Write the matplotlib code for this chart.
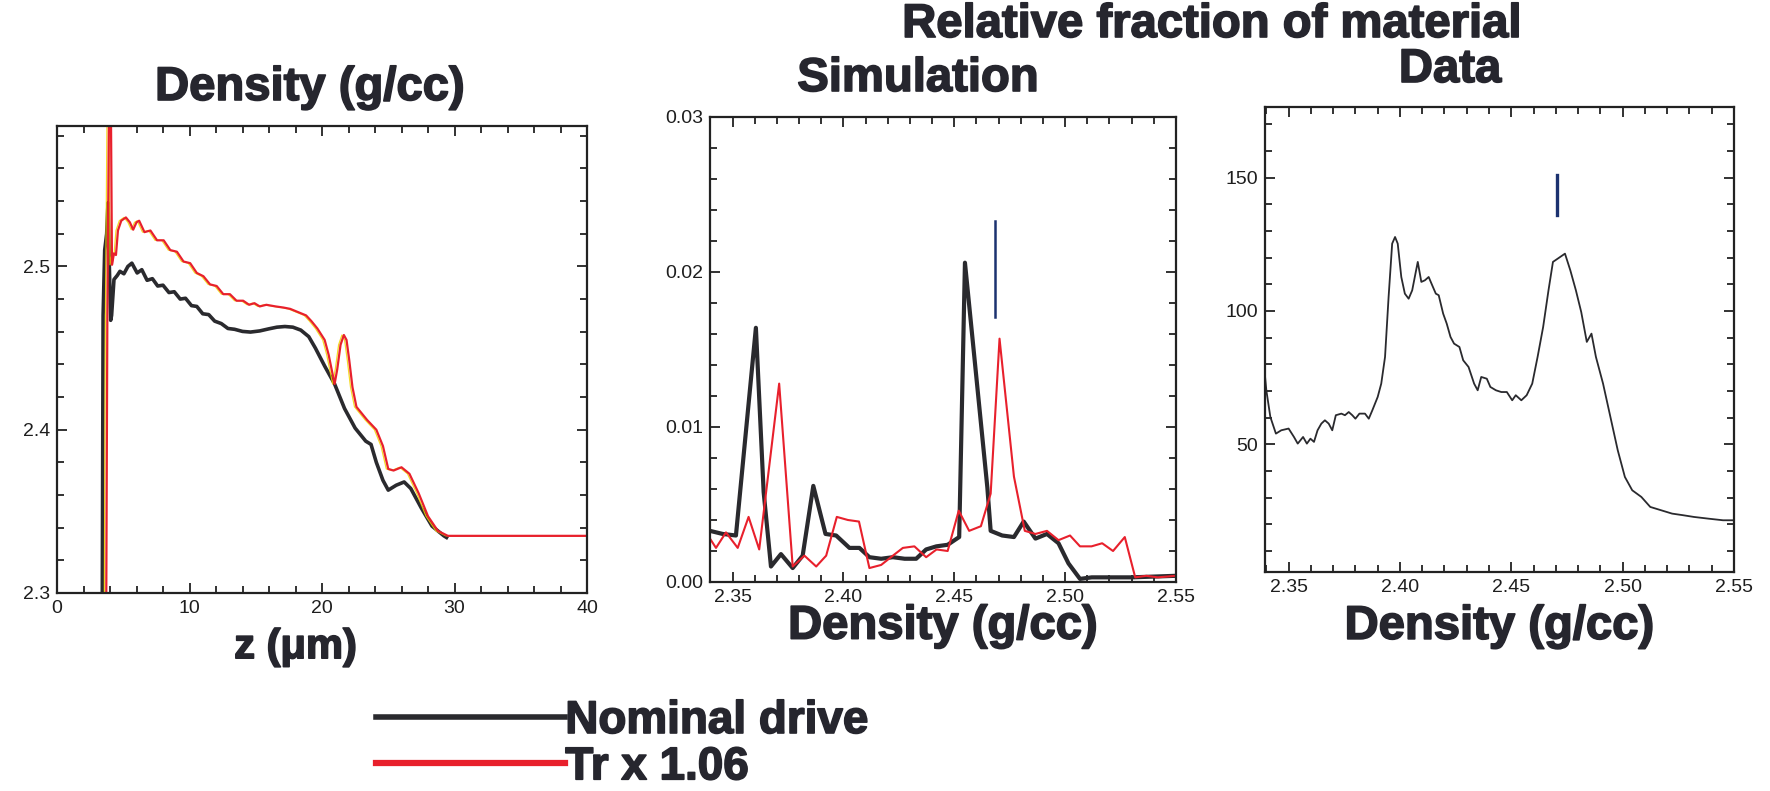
import matplotlib
matplotlib.use("Agg")
import matplotlib.pyplot as plt
from matplotlib.ticker import MultipleLocator, FormatStrFormatter
from matplotlib.lines import Line2D
import matplotlib.patheffects as pe

plt.rcParams['font.family'] = ['Liberation Sans', 'DejaVu Sans']

# ---------------- data ----------------
# Left panel: density profile vs z (um)
nominal_z = [3.42, 3.48, 3.60, 3.75, 3.85, 3.95, 4.05, 4.12, 4.30, 4.55, 4.75, 5.05, 5.35, 5.65,
             6.05, 6.40, 6.80, 7.20, 7.60, 8.00, 8.45, 8.85, 9.30, 9.70, 10.15, 10.55, 11.00,
             11.45, 11.90, 12.40, 12.90, 13.40, 14.00, 14.60, 15.30, 16.00, 16.60, 17.20, 17.80,
             18.40, 19.00, 19.50, 20.20, 20.95, 21.70, 22.50, 23.30, 23.70, 24.10, 24.60, 25.00,
             25.60, 26.20, 26.70, 27.50, 28.30, 29.20, 29.40]
nominal_rho = [2.300, 2.470, 2.510, 2.520, 2.539, 2.500, 2.467, 2.470, 2.492, 2.4945, 2.497,
               2.4955, 2.500, 2.502, 2.496, 2.498, 2.4915, 2.4925, 2.488, 2.4885, 2.484, 2.4845,
               2.480, 2.4805, 2.476, 2.4755, 2.471, 2.4705, 2.4665, 2.465, 2.462, 2.4615, 2.4602,
               2.4598, 2.4605, 2.4618, 2.4628, 2.4632, 2.4628, 2.461, 2.457, 2.450, 2.439, 2.428,
               2.413, 2.401, 2.393, 2.391, 2.380, 2.369, 2.363, 2.366, 2.368, 2.364, 2.352, 2.341,
               2.335, 2.334]

tr106_z = [3.72, 3.80, 3.95, 4.05, 4.15, 4.30, 4.45, 4.60, 4.85, 5.20, 5.50, 5.75, 6.00, 6.20,
           6.60, 7.05, 7.55, 8.05, 8.55, 9.05, 9.55, 10.05, 10.55, 11.05, 11.55, 12.05, 12.55,
           13.05, 13.55, 14.05, 14.50, 14.90, 15.30, 15.80, 16.50, 17.10, 17.60, 18.20, 18.80,
           19.20, 19.65, 20.20, 20.50, 20.75, 20.95, 21.15, 21.40, 21.65, 21.85, 22.05, 22.30,
           22.60, 23.40, 24.10, 24.60, 25.00, 25.40, 26.00, 26.60, 27.30, 28.00, 28.75, 29.50,
           40.00]
tr106_rho = [2.300, 2.470, 2.620, 2.620, 2.501, 2.508, 2.507, 2.522, 2.528, 2.530, 2.527, 2.5225,
             2.527, 2.528, 2.521, 2.522, 2.516, 2.516, 2.510, 2.509, 2.503, 2.502, 2.496, 2.494,
             2.489, 2.488, 2.483, 2.483, 2.479, 2.479, 2.4765, 2.4775, 2.4755, 2.4765, 2.4755,
             2.4748, 2.474, 2.472, 2.470, 2.4665, 2.462, 2.455, 2.446, 2.436, 2.428, 2.437, 2.452,
             2.458, 2.455, 2.443, 2.426, 2.414, 2.406, 2.400, 2.390, 2.376, 2.375, 2.377, 2.373,
             2.361, 2.347, 2.338, 2.335, 2.335]

# Middle panel: simulated relative fraction vs density
sim_nom_rho = [2.3398, 2.3455, 2.3515, 2.3605, 2.3640, 2.3673, 2.3718, 2.3771, 2.3816, 2.3864,
               2.3919, 2.3967, 2.4027, 2.4072, 2.4117, 2.4170, 2.4223, 2.4276, 2.4328, 2.4373,
               2.4419, 2.4470, 2.4522, 2.4548, 2.4649, 2.4664, 2.4716, 2.4769, 2.4813, 2.4866,
               2.4918, 2.4970, 2.5015, 2.5067, 2.5120, 2.5300, 2.5500]
sim_nom_frac = [0.0033, 0.0031, 0.0030, 0.0164, 0.0058, 0.0010, 0.0018, 0.0009, 0.0017, 0.0062,
                0.0031, 0.0030, 0.0022, 0.0022, 0.0016, 0.0015, 0.0016, 0.0015, 0.0015, 0.0021,
                0.0023, 0.0024, 0.0029, 0.0206, 0.0061, 0.0033, 0.0030, 0.0029, 0.0039, 0.0028,
                0.0031, 0.0025, 0.0012, 0.0002, 0.0003, 0.0003, 0.0004]

sim_tr_rho = [2.3398, 2.3425, 2.3470, 2.3523, 2.3572, 2.3620, 2.3710, 2.3771, 2.3824, 2.3877,
              2.3922, 2.3970, 2.4020, 2.4070, 2.4117, 2.4170, 2.4223, 2.4268, 2.4320, 2.4373,
              2.4420, 2.4470, 2.4520, 2.4567, 2.4620, 2.4664, 2.4704, 2.4769, 2.4818, 2.4866,
              2.4918, 2.4970, 2.5022, 2.5067, 2.5119, 2.5167, 2.5216, 2.5269, 2.5316, 2.5366,
              2.5418, 2.5500]
sim_tr_frac = [0.0028, 0.0022, 0.0032, 0.0022, 0.0042, 0.0021, 0.0128, 0.0010, 0.0017, 0.0010,
               0.0017, 0.0042, 0.0040, 0.0039, 0.0009, 0.0011, 0.0017, 0.0022, 0.0023, 0.0016,
               0.0021, 0.0020, 0.0046, 0.0033, 0.0036, 0.0057, 0.0157, 0.0068, 0.0033, 0.0031,
               0.0033, 0.0027, 0.0030, 0.0023, 0.0023, 0.0025, 0.0020, 0.0029, 0.0003, 0.0004,
               0.0003, 0.0004]

sim_mark_rho = [2.4682, 2.4682]
sim_mark_frac = [0.0171, 0.0233]

# Right panel: measured data
data_rho = [2.3386, 2.3400, 2.3418, 2.3443, 2.3467, 2.3500, 2.3524, 2.3541, 2.3565, 2.3582,
            2.3598, 2.3614, 2.3630, 2.3647, 2.3663, 2.3680, 2.3696, 2.3712, 2.3737, 2.3753,
            2.3770, 2.3786, 2.3800, 2.3818, 2.3843, 2.3860, 2.3876, 2.3900, 2.3916, 2.3933,
            2.3949, 2.3965, 2.3978, 2.3990, 2.4006, 2.4022, 2.4039, 2.4055, 2.4071, 2.4080,
            2.4096, 2.4112, 2.4129, 2.4145, 2.4161, 2.4174, 2.4194, 2.4210, 2.4227, 2.4243,
            2.4267, 2.4284, 2.4308, 2.4333, 2.4349, 2.4365, 2.4390, 2.4406, 2.4431, 2.4455,
            2.4480, 2.4504, 2.4520, 2.4545, 2.4569, 2.4594, 2.4618, 2.4643, 2.4667, 2.4687,
            2.4708, 2.4741, 2.4765, 2.4790, 2.4814, 2.4839, 2.4860, 2.4880, 2.4912, 2.4945,
            2.4978, 2.5010, 2.5043, 2.5084, 2.5124, 2.5173, 2.5222, 2.5271, 2.5320, 2.5386,
            2.5451, 2.5492]
data_counts = [82.75, 70.25, 60.25, 54.0, 55.25, 55.9, 52.75, 50.25, 52.75, 50.25,
               52.1, 50.9, 55.25, 57.75, 59.0, 57.75, 55.25, 60.9, 61.5, 60.9,
               62.1, 60.9, 59.6, 61.5, 61.5, 59.6, 62.75, 67.75, 72.75, 82.75,
               105.25, 125.25, 127.75, 125.25, 112.75, 106.5, 104.6, 107.75, 114.6, 118.4,
               110.9, 111.5, 112.75, 109.6, 106.5, 105.9, 99.0, 95.25, 90.25, 87.75,
               86.5, 81.5, 79.0, 72.75, 70.25, 75.25, 74.6, 71.5, 70.25, 69.6,
               69.6, 66.5, 68.4, 66.5, 68.4, 72.75, 82.75, 94.0, 107.75, 118.4,
               119.6, 121.5, 115.25, 107.75, 99.6, 88.4, 91.5, 82.75, 72.75, 60.25,
               47.75, 37.75, 32.75, 30.25, 26.5, 25.25, 24.0, 23.4, 22.75, 22.1,
               21.5, 21.5]

data_mark_rho = [2.4706, 2.4706]
data_mark_counts = [136.0, 151.0]

legend_labels = ["Nominal drive", "Tr x 1.06"]

# ---------------- style ----------------
W, H = 1770, 791
TXT = '#26262e'
BLK = '#2a2a2e'
RED = '#e8202c'
BLUE = '#1c3270'
yellow_fx = [pe.SimpleLineShadow(offset=(-1.4, 0), shadow_color='#f2d400', alpha=0.85,
                                 linewidth=0.9), pe.Normal()]
bold_fx = [pe.withStroke(linewidth=1.2, foreground=TXT)]

fig = plt.figure(figsize=(W / 100, H / 100), dpi=100)
fig.patch.set_facecolor('white')


def rect(l, r, t, b):
    return [l / W, 1 - b / H, (r - l) / W, (b - t) / H]


def style(ax, xmaj, xmin, ymaj, ymin, yfmt, xfmt):
    ax.xaxis.set_major_locator(MultipleLocator(xmaj))
    ax.xaxis.set_minor_locator(MultipleLocator(xmin))
    ax.yaxis.set_major_locator(MultipleLocator(ymaj))
    ax.yaxis.set_minor_locator(MultipleLocator(ymin))
    ax.yaxis.set_major_formatter(FormatStrFormatter(yfmt))
    ax.xaxis.set_major_formatter(FormatStrFormatter(xfmt))
    ax.tick_params(which='both', direction='in', top=True, right=True, width=1.3,
                   colors='#222222', labelsize=14, labelcolor='#1e1e1e')
    ax.tick_params(which='major', length=7, pad=5)
    ax.tick_params(which='minor', length=5)
    for s in ax.spines.values():
        s.set_linewidth(1.6)
        s.set_color('#222222')


def xlabel(ax, text, x, y, size=34):
    ax.set_xlabel(text, fontsize=size, fontweight='bold', color=TXT)
    ax.xaxis.set_label_coords(x, y)
    ax.xaxis.label.set_va('center')
    ax.xaxis.label.set_path_effects(bold_fx)


# Left panel
ax1 = fig.add_axes(rect(57, 587, 126, 593))
ax1.plot(nominal_z, nominal_rho, color=BLK, lw=2.6, solid_joinstyle='round')
ax1.plot(tr106_z, tr106_rho, color=RED, lw=1.6, path_effects=yellow_fx)
ax1.set_xlim(0, 40)
ax1.set_ylim(2.3, 2.586)
style(ax1, 10, 2, 0.1, 0.02, '%.1f', '%d')
xlabel(ax1, 'z (\u03bcm)', 0.45, -0.116, size=30)

# Middle panel
ax2 = fig.add_axes(rect(710, 1176, 117, 582))
ax2.plot(sim_nom_rho, sim_nom_frac, color=BLK, lw=3.0)
ax2.plot(sim_tr_rho, sim_tr_frac, color=RED, lw=1.5)
ax2.plot(sim_mark_rho, sim_mark_frac, color=BLUE, lw=1.8)
ax2.set_xlim(2.3398, 2.55)
ax2.set_ylim(0, 0.03)
style(ax2, 0.05, 0.01, 0.01, 0.002, '%.2f', '%.2f')
xlabel(ax2, 'Density (g/cc)', 0.5, -0.096)

# Right panel
ax3 = fig.add_axes(rect(1265, 1734, 107, 572))
ax3.plot(data_rho, data_counts, color=BLK, lw=1.3)
ax3.plot(data_mark_rho, data_mark_counts, color=BLUE, lw=2.4)
ax3.set_xlim(2.3394, 2.55)
ax3.set_ylim(2.1, 176.5)
style(ax3, 0.05, 0.01, 50, 10, '%d', '%.2f')
xlabel(ax3, 'Density (g/cc)', 0.5, -0.118)


# Titles
def ftext(x, y, s):
    t = fig.text(x / W, 1 - y / H, s, ha='center', va='center', fontsize=34,
                 fontweight='bold', color=TXT)
    t.set_path_effects(bold_fx)


ftext(1212, 25, 'Relative fraction of material')
ftext(918, 79, 'Simulation')
ftext(1450, 70, 'Data')
ftext(310, 88, 'Density (g/cc)')

# Legend
handles = [Line2D([], [], color=BLK, lw=4.0),
           Line2D([], [], color=RED, lw=4.5, path_effects=yellow_fx)]
leg = fig.legend(handles, legend_labels, loc='upper left', bbox_to_anchor=(376 / W, 1 - 699 / H),
                 frameon=False, handlelength=4.13, handletextpad=0.0, borderpad=0,
                 borderaxespad=0, labelspacing=0.05,
                 prop={'family': 'Liberation Sans', 'weight': 'bold', 'size': 33},
                 labelcolor=TXT)
for t in leg.get_texts():
    t.set_path_effects(bold_fx)

fig.savefig('out.png', dpi=100, facecolor='white')
